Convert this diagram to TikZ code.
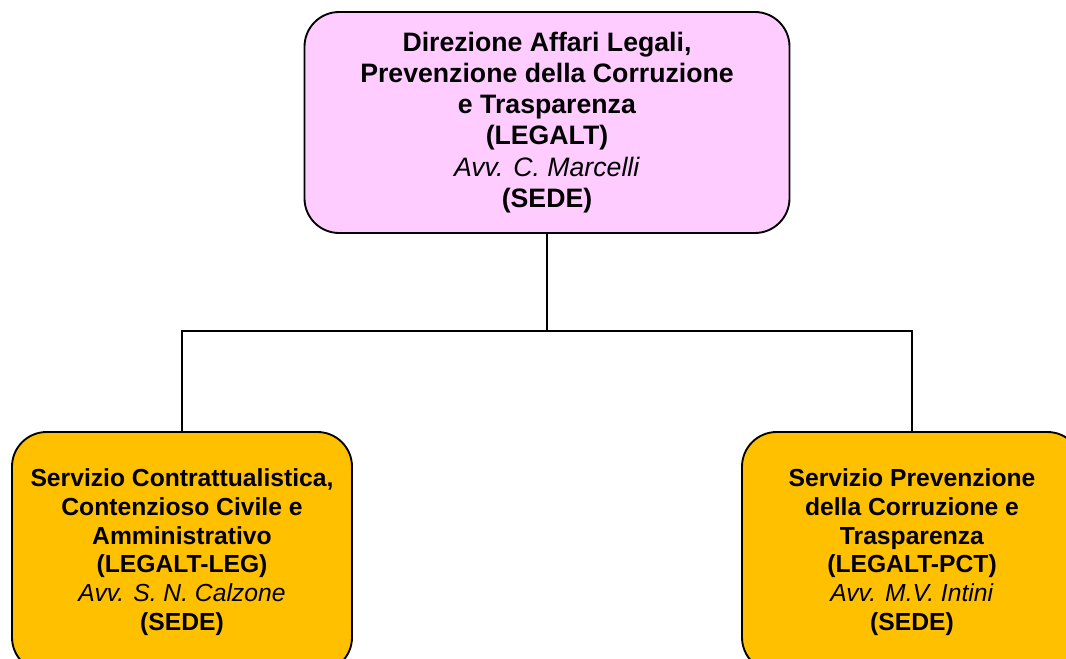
\documentclass[tikz,border=0pt]{standalone}
\usepackage{fontspec}
\setmainfont{Liberation Sans}
\usetikzlibrary{positioning}

\definecolor{rosa}{HTML}{FFCCFF}
\definecolor{giallo}{HTML}{FFC000}

\begin{document}
\begin{tikzpicture}[x = 0.75pt, y = -0.75pt, line width = 1.4pt,
    ufficio/.style = {draw, rounded corners = 26pt, align = center, inner sep = 0pt}]

    \useasboundingbox (0,0) rectangle (1066,659);
    \clip (0,0) rectangle (1066,659);

    \begin{scope}

        \node (DIR) at (547,122.5) [ufficio, fill = rosa, minimum width = 363.75pt, minimum height = 165.75pt, font = \fontsize{20}{23.4}\selectfont]
            {\textbf{Direzione Affari Legali,}\\ \textbf{Prevenzione della Corruzione}\\ \textbf{e Trasparenza}\\ \textbf{(LEGALT)}\\ \textit{Avv. C. Marcelli}\\ \textbf{(SEDE)}};

        \node (LEG) at (182,552) [ufficio, fill = giallo, minimum width = 255pt, minimum height = 180pt, font = \fontsize{18.5}{21.5}\selectfont]
            {\textbf{Servizio Contrattualistica,}\\ \textbf{Contenzioso Civile e}\\ \textbf{Amministrativo}\\ \textbf{(LEGALT-LEG)}\\ \textit{Avv. S. N. Calzone}\\ \textbf{(SEDE)}};
        \node (PCT) at (912,552) [ufficio, fill = giallo, minimum width = 255pt, minimum height = 180pt, font = \fontsize{18.5}{21.5}\selectfont]
            {\textbf{Servizio Prevenzione}\\ \textbf{della Corruzione e}\\ \textbf{Trasparenza}\\ \textbf{(LEGALT-PCT)}\\ \textit{Avv. M.V. Intini}\\ \textbf{(SEDE)}};

        \coordinate (BUS) at (547,331);

        \draw (DIR.south) -- (BUS);
        \draw (LEG.north) |- (BUS) -| (PCT.north);

    \end{scope}

\end{tikzpicture}
\end{document}
